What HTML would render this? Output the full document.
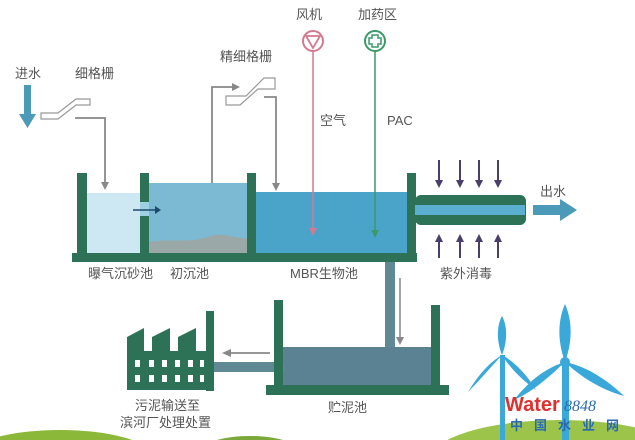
<!DOCTYPE html>
<html><head><meta charset="utf-8"><style>
html,body{margin:0;padding:0;background:#fff;width:635px;height:440px;overflow:hidden}
svg{display:block}
text{font-family:"Liberation Sans","Noto Sans CJK SC",sans-serif;fill:#555;font-size:13px}
</style></head><body>
<svg width="635" height="440" viewBox="0 0 635 440" xmlns="http://www.w3.org/2000/svg">
<!-- hills -->
<ellipse cx="60" cy="455" rx="90" ry="25" fill="#8cb83a"/>
<ellipse cx="250" cy="452" rx="50" ry="16" fill="#7aa83a"/>
<ellipse cx="560" cy="460" rx="130" ry="40" fill="#9cc44a"/>
<!-- water -->
<rect x="87" y="193" width="54" height="61" fill="#cde8f2"/>
<rect x="148" y="183" width="100" height="71" fill="#7cb9d2"/>
<path d="M148,254 L148,242 C170,238 190,244 210,236 C225,232 240,240 248,238 L248,254Z" fill="#9aa9a8"/>
<rect x="256" y="192" width="152" height="62" fill="#4aa3c8"/>
<rect x="140" y="202" width="9" height="14" fill="#9dd0e0"/>
<line x1="133" y1="210" x2="155" y2="210" stroke="#1d4a6a" stroke-width="1.5"/><path d="M155,206 L161,210 L155,214Z" fill="#1d4a6a"/>
<!-- walls -->
<g fill="#2d7157">
<rect x="72" y="253" width="345" height="9"/>
<rect x="77" y="173" width="10" height="82"/>
<rect x="140" y="173" width="9" height="29"/><rect x="140" y="216" width="9" height="40"/>
<rect x="247" y="173" width="9" height="82"/>
<rect x="407" y="173" width="9" height="89"/>
<rect x="415" y="195" width="111" height="30" rx="6"/>
</g>
<rect x="415" y="205" width="110" height="10" fill="#5aaed0"/>
<path d="M533,205 L560,205 L560,199 L577,210 L560,221 L560,215 L533,215Z" fill="#4a9ab8"/>
<text x="540" y="196">出水</text>
<!-- UV arrows -->
<g stroke="#4a3f6a" stroke-width="2">
<line x1="439" y1="160" x2="439" y2="182"/><line x1="460" y1="160" x2="460" y2="182"/><line x1="479" y1="160" x2="479" y2="182"/><line x1="498" y1="160" x2="498" y2="182"/>
<line x1="439" y1="240" x2="439" y2="258"/><line x1="460" y1="240" x2="460" y2="258"/><line x1="479" y1="240" x2="479" y2="258"/><line x1="498" y1="240" x2="498" y2="258"/>
</g>
<g fill="#4a3f6a">
<path d="M435,180 L439,188 L443,180Z"/><path d="M456,180 L460,188 L464,180Z"/><path d="M475,180 L479,188 L483,180Z"/><path d="M494,180 L498,188 L502,180Z"/>
<path d="M435,242 L439,234 L443,242Z"/><path d="M456,242 L460,234 L464,242Z"/><path d="M475,242 L479,234 L483,242Z"/><path d="M494,242 L498,234 L502,242Z"/>
</g>
<!-- fan & PAC -->
<circle cx="313" cy="41" r="10" fill="#fff" stroke="#d47a90" stroke-width="2"/>
<path d="M306,36 L320,36 L313,48Z" fill="none" stroke="#d47a90" stroke-width="1.8"/>
<line x1="313" y1="51" x2="313" y2="230" stroke="#d47a90" stroke-width="1.5"/>
<path d="M309,228 L313,236 L317,228Z" fill="#d47a90"/>
<circle cx="375" cy="41" r="10" fill="#fff" stroke="#3a9a6a" stroke-width="2"/>
<path d="M372,35 h6 v3 h3 v6 h-3 v3 h-6 v-3 h-3 v-6 h3Z" fill="none" stroke="#3a9a6a" stroke-width="1.5"/>
<line x1="375" y1="51" x2="375" y2="232" stroke="#3a9a6a" stroke-width="1.5"/>
<path d="M371,230 L375,238 L379,230Z" fill="#3a9a6a"/>
<text x="296" y="19">风机</text><text x="358" y="19">加药区</text>
<text x="320" y="125">空气</text><text x="387" y="125">PAC</text>
<!-- inlet -->
<text x="15" y="78">进水</text>
<rect x="24" y="85" width="7" height="30" fill="#4a9ab8"/><path d="M19,114 L36,114 L27.5,128Z" fill="#4a9ab8"/>
<text x="75" y="78">细格栅</text>
<path d="M41,119 L58,119 L76,105 L90,105 L90,99 L76,99 L58,113 L41,113Z" fill="#fff" stroke="#999" stroke-width="1.2"/>
<polyline points="75,118 105,118 105,183" fill="none" stroke="#888" stroke-width="1.8"/><path d="M101,182 L105,190 L109,182Z" fill="#888"/>
<text x="220" y="61">精细格栅</text>
<path d="M226,105 L240,105 L258,89 L275,89 L275,78 L264,78 L246,96 L226,96Z" fill="#fff" stroke="#999" stroke-width="1.2"/>
<polyline points="212,183 212,87 233,87" fill="none" stroke="#888" stroke-width="1.8"/><path d="M232,83 L240,87 L232,91Z" fill="#888"/>
<polyline points="264,97 276,97 276,184" fill="none" stroke="#888" stroke-width="1.8"/><path d="M272,183 L276,191 L280,183Z" fill="#888"/>
<text x="88" y="278">曝气沉砂池</text><text x="170" y="278">初沉池</text><text x="290" y="278">MBR生物池</text><text x="440" y="278">紫外消毒</text>
<!-- sludge -->
<rect x="385" y="262" width="10" height="88" fill="#5f8a94"/>
<line x1="400" y1="278" x2="400" y2="338" stroke="#888" stroke-width="1.5"/><path d="M396,337 L400,345 L404,337Z" fill="#888"/>
<rect x="282" y="347" width="150" height="39" fill="#5a8292"/>
<rect x="212" y="362" width="72" height="10" fill="#5f8a94"/>
<g fill="#2d7157">
<rect x="274" y="300" width="9" height="92"/>
<rect x="431" y="305" width="9" height="82"/>
<rect x="266" y="385" width="183" height="10"/>
<rect x="206" y="311" width="8" height="80"/>
<path d="M127,390 L127,337 L144,328 L144,351 L152,351 L152,337 L170,328 L170,351 L178,351 L178,337 L196,328 L196,351 L207,351 L207,390Z"/>
</g>
<g fill="#fff">
<rect x="135" y="360" width="5" height="7"/><rect x="149" y="360" width="5" height="7"/><rect x="162" y="360" width="5" height="7"/><rect x="175" y="360" width="5" height="7"/><rect x="188" y="360" width="5" height="7"/><rect x="200" y="360" width="4" height="7"/>
<rect x="135" y="375" width="5" height="7"/><rect x="149" y="375" width="5" height="7"/><rect x="162" y="375" width="5" height="7"/><rect x="175" y="375" width="5" height="7"/><rect x="188" y="375" width="5" height="7"/><rect x="200" y="375" width="4" height="7"/>
</g>
<line x1="270" y1="353" x2="230" y2="353" stroke="#888" stroke-width="1.8"/><path d="M231,349 L222,353 L231,357Z" fill="#888"/>
<text x="135" y="410">污泥输送至</text><text x="120" y="427">滨河厂处理处置</text><text x="328" y="412">贮泥池</text>
<!-- turbines -->
<g fill="#3aa8d8">
<rect x="500" y="355" width="5" height="85"/>
<path d="M502,355 C496,340 497,325 502,316 C507,325 508,340 502,355Z"/>
<path d="M502,355 C490,368 480,380 468,392 C478,375 490,362 502,355Z"/>
<path d="M502,355 C515,362 527,375 536,390 C522,380 510,368 502,355Z"/>
<rect x="562" y="365" width="7" height="75"/>
<path d="M565,362 C557,340 558,320 565,304 C572,320 573,340 565,362Z"/>
<path d="M565,362 C548,378 532,392 514,400 C528,382 545,368 565,362Z"/>
<path d="M565,362 C585,366 605,378 624,396 C602,390 582,378 565,362Z"/>
<circle cx="565" cy="362" r="5"/>
</g>
<text x="505" y="411" style="font-size:20px;font-weight:bold;fill:#e03030">Water</text>
<text x="564" y="411" style="font-size:16px;font-style:italic;fill:#2a6ab0;font-family:'Liberation Serif',serif">8848</text>
<text x="510" y="430" style="font-size:13px;font-weight:bold;fill:#2a6ab0;letter-spacing:11px">中国水业网</text>
</svg>
</body></html>
